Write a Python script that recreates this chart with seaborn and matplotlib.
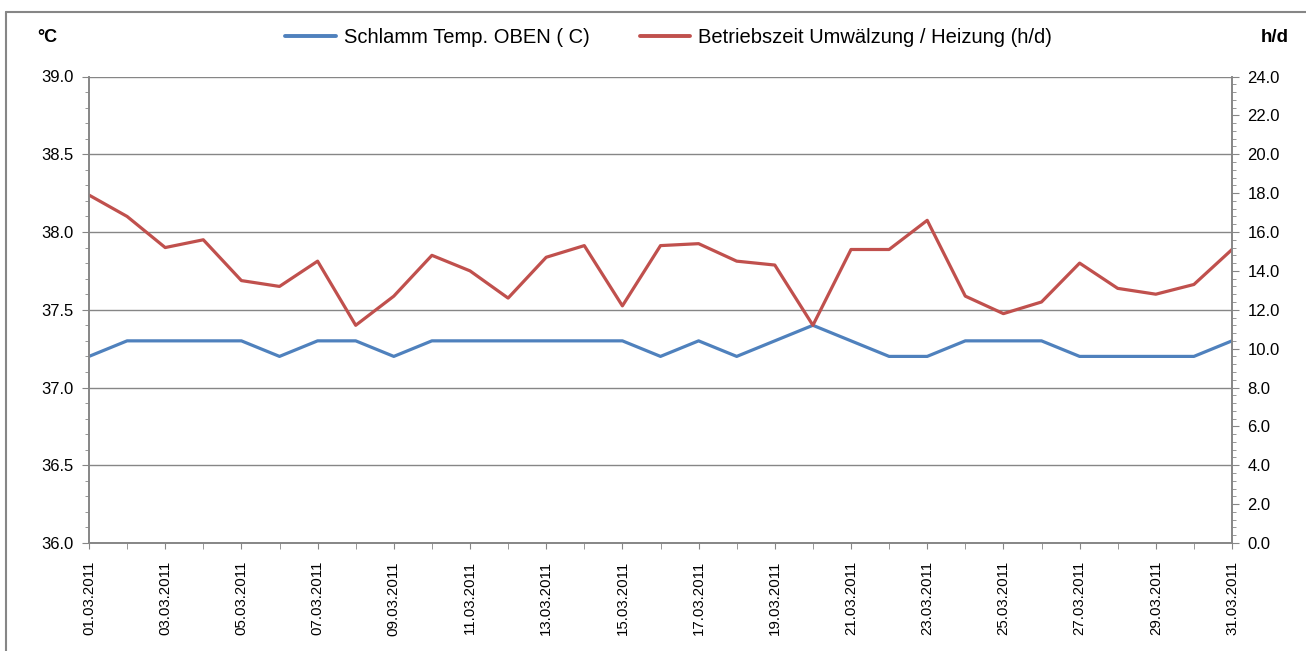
import matplotlib
matplotlib.use("Agg")
import matplotlib.pyplot as plt
import matplotlib.dates as mdates
from matplotlib.ticker import MultipleLocator, FormatStrFormatter
from matplotlib.lines import Line2D
import seaborn as sns
import pandas as pd

# data
dates = ["01.03.2011", "02.03.2011", "03.03.2011", "04.03.2011", "05.03.2011",
         "06.03.2011", "07.03.2011", "08.03.2011", "09.03.2011", "10.03.2011",
         "11.03.2011", "12.03.2011", "13.03.2011", "14.03.2011", "15.03.2011",
         "16.03.2011", "17.03.2011", "18.03.2011", "19.03.2011", "20.03.2011",
         "21.03.2011", "22.03.2011", "23.03.2011", "24.03.2011", "25.03.2011",
         "26.03.2011", "27.03.2011", "28.03.2011", "29.03.2011", "30.03.2011",
         "31.03.2011"]
temp_oben = [37.2, 37.3, 37.3, 37.3, 37.3, 37.2, 37.3, 37.3, 37.2, 37.3,
             37.3, 37.3, 37.3, 37.3, 37.3, 37.2, 37.3, 37.2, 37.3, 37.4,
             37.3, 37.2, 37.2, 37.3, 37.3, 37.3, 37.2, 37.2, 37.2, 37.2,
             37.3]
betriebszeit = [17.9, 16.8, 15.2, 15.6, 13.5, 13.2, 14.5, 11.2, 12.7, 14.8,
                14.0, 12.6, 14.7, 15.3, 12.2, 15.3, 15.4, 14.5, 14.3, 11.2,
                15.1, 15.1, 16.6, 12.7, 11.8, 12.4, 14.4, 13.1, 12.8, 13.3,
                15.1]

label_temp = "Schlamm Temp. OBEN ( C)"
label_zeit = "Betriebszeit Umwälzung / Heizung (h/d)"

df = pd.DataFrame({"datum": pd.to_datetime(dates, format="%d.%m.%Y"),
                   "temp": temp_oben, "zeit": betriebszeit})

sns.set_style("white")
plt.rcParams["font.family"] = ["Liberation Sans", "DejaVu Sans"]
plt.rcParams["text.color"] = "black"

grey = "#868686"
blue = "#4F81BD"
red = "#C0504D"

fig = plt.figure(figsize=(13.06, 6.51), dpi=100)
ax = fig.add_axes([89 / 1306, 1 - 543 / 651, (1232 - 89) / 1306, (543 - 76.5) / 651])
ax2 = ax.twinx()

sns.lineplot(data=df, x="datum", y="temp", ax=ax, color=blue, linewidth=2.3, legend=False)
sns.lineplot(data=df, x="datum", y="zeit", ax=ax2, color=red, linewidth=2.3, legend=False)

ax.set_ylim(36.0, 39.0)
ax.yaxis.set_major_locator(MultipleLocator(0.5))
ax.yaxis.set_minor_locator(MultipleLocator(0.1))
ax.yaxis.set_major_formatter(FormatStrFormatter("%.1f"))
ax2.set_ylim(0, 24)
ax2.yaxis.set_major_locator(MultipleLocator(2))
ax2.yaxis.set_minor_locator(MultipleLocator(0.4))
ax2.yaxis.set_major_formatter(FormatStrFormatter("%.1f"))

ax.set_xlim(df["datum"].iloc[0], df["datum"].iloc[-1])
ax.xaxis.set_major_locator(mdates.DayLocator(interval=2))
ax.xaxis.set_minor_locator(mdates.DayLocator())
ax.xaxis.set_major_formatter(mdates.DateFormatter("%d.%m.%Y"))

ax.grid(axis="y", which="major", color=grey, linewidth=1)
ax.set_xlabel("")
ax.set_ylabel("")
ax2.set_ylabel("")

for a in (ax, ax2):
    for s in a.spines.values():
        s.set_color(grey)
        s.set_linewidth(1.2)
    a.spines["top"].set_visible(False)

ax.tick_params(axis="y", which="major", direction="out", length=5, color=grey,
               labelsize=12, labelcolor="black", pad=6, left=True)
ax.tick_params(axis="y", which="minor", direction="out", length=3, color=grey, left=True)
ax.tick_params(axis="x", which="both", direction="out", length=4, color=grey,
               labelsize=10.8, labelcolor="black", pad=9, bottom=True, labelrotation=90)
ax2.tick_params(axis="y", which="major", direction="out", length=5, color=grey,
                labelsize=12, labelcolor="black", pad=6, right=True)
ax2.tick_params(axis="y", which="minor", direction="out", length=3, color=grey, right=True)

handles = [Line2D([], [], color=blue, linewidth=2.8),
           Line2D([], [], color=red, linewidth=2.8)]
fig.legend(handles, [label_temp, label_zeit], loc="center", bbox_to_anchor=(0.512, 0.942),
           ncol=2, frameon=False, fontsize=14.5, handlelength=2.5, handletextpad=0.4,
           columnspacing=2.5)

fig.text(47 / 1306, 0.942, "°C", fontsize=13, fontweight="bold", ha="center", va="center")
fig.text(1275 / 1306, 0.942, "h/d", fontsize=13.5, fontweight="bold", ha="center", va="center")

# outer chart frame
fig.add_artist(Line2D([6 / 1306, 6 / 1306], [1 - 12 / 651, 0], transform=fig.transFigure,
                      color=grey, linewidth=1.5))
fig.add_artist(Line2D([6 / 1306, 1], [1 - 12 / 651, 1 - 12 / 651], transform=fig.transFigure,
                      color=grey, linewidth=1.5))

fig.savefig("out.png", dpi=100)
plt.close(fig)
